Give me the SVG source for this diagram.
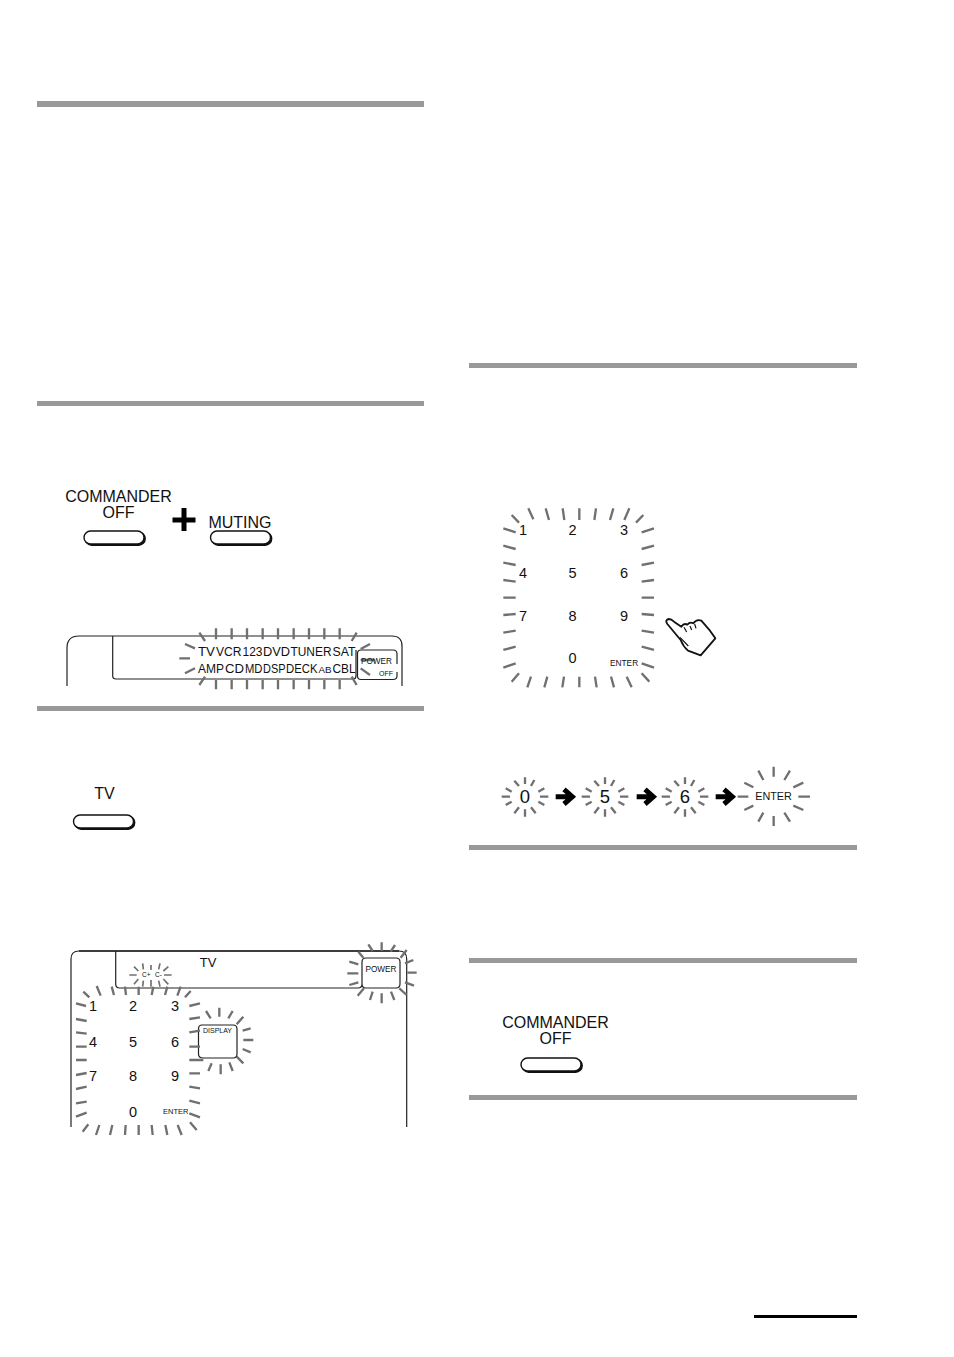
<svg xmlns="http://www.w3.org/2000/svg" width="954" height="1357" viewBox="0 0 954 1357">
<style>
text{font-family:"Liberation Sans",Arial,sans-serif;fill:#111}
.m{text-anchor:middle}
.ray{fill:none;stroke:#707070;stroke-width:7}
.ln{fill:none;stroke:#222;stroke-width:1.200}
.bar{fill:#999}
.l{font-size:16px}
.n{font-size:14.500px}
.btnS{fill:#111;stroke:#111;stroke-width:1.400}
.btn{fill:#fff;stroke:#111;stroke-width:1.400}
.arr{fill:none;stroke:#000;stroke-width:15;stroke-linejoin:miter}
</style>
<defs>
<g id="btn">
<rect class="btnS" x="1.200" y="1.200" width="60" height="13" rx="6.500"/>
<rect class="btn" x="0" y="0" width="60" height="13" rx="6.500"/>
</g>
<path id="burst" class="ray" d="M0,-58V-38M28,-50L18,-32M58,-25L40,-15M70,0H45M58,25L40,15M32,50L18,32M0,60V38M-32,50L-18,32M-58,25L-40,15M-70,0H-45M-58,-25L-40,-15M-32,-48L-18,-32"/>
</defs>
<rect width="954" height="1357" fill="#fff"/>

<g id="header-bars">
<rect class="bar" x="37" y="101" width="387" height="6"/>
<rect class="bar" x="37" y="401" width="387" height="5"/>
<rect class="bar" x="37" y="706" width="387" height="5"/>
<rect class="bar" x="469" y="363" width="388" height="5"/>
<rect class="bar" x="469" y="845" width="388" height="5"/>
<rect class="bar" x="469" y="958" width="388" height="5"/>
<rect class="bar" x="469" y="1095" width="388" height="5"/>
<rect x="754" y="1315" width="103" height="3" fill="#000"/>
</g>

<g id="commander-off-1">
<text class="l m" x="118.500" y="502">COMMANDER</text>
<text class="l m" x="118.500" y="518">OFF</text>
<use href="#btn" x="84" y="531"/>
</g>
<g id="plus"><path d="M181.500,508h5v9.500h9v5h-9v8.500h-5v-8.500h-9v-5h9z" fill="#000"/></g>
<g id="muting">
<text class="l m" x="240" y="528">MUTING</text>
<use href="#btn" x="210.500" y="531"/>
</g>

<g id="display-panel-1">
<path class="ln" d="M67,686V648Q67,636 79,636H392Q402,636 402,646V686"/>
<path class="ln" d="M112.700,636V676Q112.700,679 116,679H353Q356,679 356,676V650"/>
<path class="ln" d="M361,650H393Q397,650 397,654V664M397,672V676Q397,679.500 393,679.500H361Q357.500,679.500 357.500,676V653.500Q357.500,650 361,650"/>
<g transform="translate(50 480) scale(.33333)">
<path class="ray" d="M498,445V478M545,445V478M591,445V478M638,445V478M684,445V478M731,445V478M777,445V478M823,445V478M869,445V478M498,600V628M545,600V628M591,600V628M638,600V628M684,600V628M731,600V628M777,600V628M823,600V628M869,600V628M448,458L465,483M405,492L435,505M388,535H420M405,580L435,565M448,615L465,590M920,458L905,483M960,492L932,507M932,540H975M932,565L960,585M905,590L920,615"/>
</g>
<g font-size="12.300">
<text x="198" y="656" textLength="17" lengthAdjust="spacingAndGlyphs">TV</text><text x="216" y="656" textLength="25.500" lengthAdjust="spacingAndGlyphs">VCR</text><text x="242.500" y="656" textLength="20" lengthAdjust="spacingAndGlyphs">123</text><text x="263" y="656" textLength="27" lengthAdjust="spacingAndGlyphs">DVD</text><text x="290.500" y="656" textLength="41" lengthAdjust="spacingAndGlyphs">TUNER</text><text x="332.500" y="656" textLength="23" lengthAdjust="spacingAndGlyphs">SAT</text>
<text x="198" y="672.500" textLength="26" lengthAdjust="spacingAndGlyphs">AMP</text><text x="225" y="672.500" textLength="19" lengthAdjust="spacingAndGlyphs">CD</text><text x="245" y="672.500" textLength="17.500" lengthAdjust="spacingAndGlyphs">MD</text><text x="263" y="672.500" textLength="22.500" lengthAdjust="spacingAndGlyphs">DSP</text><text x="286" y="672.500" textLength="31.500" lengthAdjust="spacingAndGlyphs">DECK</text><text x="318.500" y="672.500" font-size="9" textLength="13" lengthAdjust="spacingAndGlyphs">AB</text><text x="332.500" y="672.500" textLength="23" lengthAdjust="spacingAndGlyphs">CBL</text>
</g>
<text x="361" y="664" font-size="8.200">POWER</text>
<text x="379" y="676" font-size="7">OFF</text>
</g>

<g id="tv-button">
<text class="l m" x="104.500" y="799">TV</text>
<use href="#btn" x="73.500" y="815"/>
</g>

<g id="display-panel-2">
<path class="ln" d="M71,1127V959Q71,951 79,951H399Q406.700,951 406.700,959V1127"/>
<path d="M79,951H399" stroke="#222" stroke-width="1.600" fill="none"/>
<path class="ln" d="M115.700,951V984Q115.700,988 119.700,988H358Q362,988 362,984V962Q362,958 366,958H396Q400,958 400,962V984Q400,988 396,988H366Q362,988 362,984"/>
<path class="ln" d="M202,1025H233Q237,1025 237,1029V1054Q237,1058 233,1058H203Q198.500,1058 198.500,1054V1029Q198.500,1025 202,1025"/>
<g transform="translate(60 935) scale(.33333)">
<path class="ray" d="M70,170L88,187M110,153L122,182M155,155L162,180M195,155L198,180M236,155V180M280,155L275,180M322,155L315,180M362,155L352,182M392,168L375,187M48,205L78,213M48,252L80,258M48,292L80,296M48,335H80M48,375H80M48,420L80,414M48,462L80,455M48,505L80,500M48,545L80,533M388,213L420,205M388,252L420,247M388,292L420,287M388,335H420M388,375H430M388,415H420M388,455L420,460M388,497L420,505M388,535L420,547M68,590L85,568M108,600L118,570M150,600L157,570M195,600L197,570M236,600V570M278,600L275,570M322,600L316,570M365,600L353,570M410,585L390,562"/>
<path class="ray" d="M925,28L938,48M965,22V48M1005,30L992,50M1040,45L1022,68M895,50L910,68M868,80L895,88M862,115H895M868,150L895,142M893,182L912,160M930,195L938,170M965,205V175M1003,195L993,170M1040,180L1018,160M1035,85L1060,75M1042,113H1070M1035,142L1062,152"/>
<path class="ray" d="M438,228L452,250M478,218V245M518,228L505,250M550,245L530,268M572,280L548,287M580,315H550M572,352L548,342M550,385L530,365M518,408L508,382M482,418V388M445,408L455,385"/>
<path class="ray" style="stroke-width:5" d="M222,95L235,108M248,85L250,103M208,120H230M222,148L235,132M248,155L250,137M273,90V105M273,135V155M300,155L296,137M325,148L310,132M335,120H312M325,95L310,108M300,85L296,103"/>
</g>
<text class="m" x="208" y="967" font-size="13">TV</text>
<text x="142" y="977.300" font-size="6.500">C+</text>
<text x="155" y="977.300" font-size="6.500">C-</text>
<text class="m" x="381" y="972" font-size="8.200">POWER</text>
<text class="m" x="217.500" y="1032.500" font-size="7">DISPLAY</text>
<g class="n" text-anchor="middle">
<text x="93" y="1011">1</text><text x="133" y="1011">2</text><text x="175" y="1011">3</text>
<text x="93" y="1047">4</text><text x="133" y="1047">5</text><text x="175" y="1047">6</text>
<text x="93" y="1081">7</text><text x="133" y="1081">8</text><text x="175" y="1081">9</text>
<text x="133" y="1117">0</text>
</g>
<text x="163" y="1114" font-size="7.500">ENTER</text>
</g>

<g id="keypad">
<g transform="translate(495 500) scale(.33333)">
<path class="ray" d="M50,45L72,68M100,25L115,58M152,25L162,60M203,25L208,60M253,25V60M303,25L298,60M355,25L345,60M403,25L388,60M445,45L423,68M25,85L62,97M25,137L62,147M25,188L62,195M25,240L62,245M25,293H62M25,345L62,342M25,398L62,392M25,450L62,440M25,503L62,490M440,97L477,85M440,147L477,137M440,195L477,188M440,245L477,240M440,293H477M440,342L477,345M440,392L477,398M440,440L477,450M440,490L477,503M50,545L72,520M97,562L108,530M148,562L157,530M202,562L207,530M253,562V530M305,562L300,530M357,562L348,530M410,562L395,530M463,545L440,520"/>
</g>
<g class="n" text-anchor="middle">
<text x="523" y="535">1</text><text x="572.500" y="535">2</text><text x="624" y="535">3</text>
<text x="523" y="578">4</text><text x="572.500" y="578">5</text><text x="624" y="578">6</text>
<text x="523" y="621">7</text><text x="572.500" y="621">8</text><text x="624" y="621">9</text>
<text x="572.500" y="663">0</text>
</g>
<text x="610" y="666" font-size="8.300">ENTER</text>
</g>

<g id="hand" transform="translate(660 610) scale(.33333)" fill="#fff" stroke="#111" stroke-width="5.500" stroke-linejoin="round">
<path d="M22,42Q14,30 26,27Q34,27 42,35L64,50Q72,38 82,44Q90,34 100,40Q110,26 124,32L150,62L166,85L122,136L84,122Q70,110 62,90Z"/>
<path d="M72,52L80,66M90,48L95,60M104,42L108,55M60,82L85,108" fill="none" stroke-width="3.500"/>
</g>

<g id="seq-0" transform="translate(495 760) scale(.33333)"><use href="#burst" x="90" y="110"/></g>
<g id="seq-5" transform="translate(495 760) scale(.33333)"><use href="#burst" x="330" y="110"/></g>
<g id="seq-6" transform="translate(495 760) scale(.33333)"><use href="#burst" x="570" y="110"/></g>
<g id="seq-enter" transform="translate(495 760) scale(.33333)">
<path class="ray" d="M836,20V50M885,32L868,60M925,68L895,82M910,110H945M925,150L895,137M885,185L868,158M836,198V168M790,185L805,158M748,150L775,137M728,110H760M748,68L775,82M790,32L805,60"/>
</g>
<g id="seq-labels">
<text class="m" x="525" y="803" font-size="18.500">0</text>
<text class="m" x="605" y="803" font-size="18.500">5</text>
<text class="m" x="685" y="803" font-size="18.500">6</text>
<text class="m" x="773.500" y="800" font-size="10.800">ENTER</text>
</g>
<g id="connectors" transform="translate(495 760) scale(.33333)">
<path class="arr" d="M182,110H228M207,88L232,110L207,132"/>
<path class="arr" d="M425,110H471M450,88L475,110L450,132"/>
<path class="arr" d="M662,110H708M687,88L712,110L687,132"/>
</g>

<g id="commander-off-2">
<text class="l m" x="555.500" y="1028">COMMANDER</text>
<text class="l m" x="555.500" y="1044">OFF</text>
<use href="#btn" x="521" y="1058"/>
</g>
</svg>
